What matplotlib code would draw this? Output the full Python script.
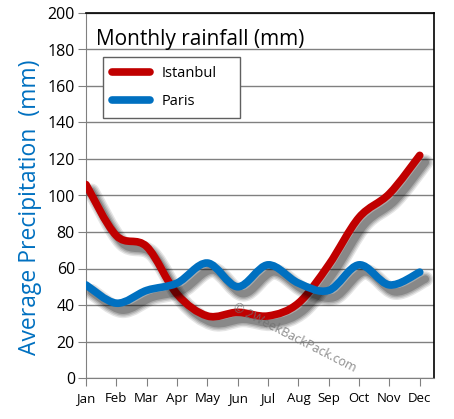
import matplotlib
matplotlib.use("Agg")
import matplotlib.pyplot as plt
import matplotlib.patheffects as pe
from matplotlib.path import Path
from matplotlib.patches import PathPatch
from matplotlib.lines import Line2D
import numpy as np

months = ['Jan', 'Feb', 'Mar', 'Apr', 'May', 'Jun',
          'Jul', 'Aug', 'Sep', 'Oct', 'Nov', 'Dec']
istanbul = [106, 78, 72, 46, 34, 36, 34, 41, 62, 88, 101, 122]
paris = [51, 41, 48, 52, 63, 50, 62, 52, 48, 62, 51, 58]

red = '#c00000'
blue = '#0070c0'

plt.rcParams['font.family'] = ['Open Sans', 'DejaVu Sans']


def smooth_path(values):
    # cubic bezier through the points (excel style smoothing)
    pts = np.column_stack([np.arange(len(values)), values]).astype(float)
    verts = [pts[0]]
    codes = [Path.MOVETO]
    n = len(pts)
    for i in range(n - 1):
        p0 = pts[max(i - 1, 0)]
        p1 = pts[i]
        p2 = pts[i + 1]
        p3 = pts[min(i + 2, n - 1)]
        c1 = p1 + (p2 - p0) / 6.0
        c2 = p2 - (p3 - p1) / 6.0
        verts += [c1, c2, p2]
        codes += [Path.CURVE4] * 3
    return Path(verts, codes)


def shadow_effects(lw):
    effs = []
    for extra, a in [(6, 0.10), (4, 0.12), (2, 0.15), (0, 0.2)]:
        effs.append(pe.Stroke(offset=(4, -5), linewidth=lw + extra,
                              foreground='black', alpha=a))
    effs.append(pe.Normal())
    return effs


fig = plt.figure(figsize=(4.54, 4.19), dpi=100)
ax = fig.add_axes([86 / 454, 41 / 419, 348 / 454, 365 / 419])

lw = 5.5
for vals, col in [(istanbul, red), (paris, blue)]:
    patch = PathPatch(smooth_path(vals), fill=False, edgecolor=col,
                      linewidth=lw, capstyle='round', joinstyle='round',
                      zorder=3)
    patch.set_path_effects(shadow_effects(lw))
    ax.add_patch(patch)

ax.set_xlim(0, 11.47)
ax.set_ylim(0, 200)
ax.set_xticks(range(12))
ax.set_xticklabels(months, fontsize=9.5)
ax.set_yticks(range(0, 201, 20))
ax.tick_params(axis='y', labelsize=11.5, length=6, color='#808080', pad=2)
ax.tick_params(axis='x', length=6, color='#808080', pad=4)
ax.grid(axis='y', color='#808080', linewidth=1)
ax.set_axisbelow(True)
for s in ['left', 'bottom']:
    ax.spines[s].set_color('#808080')
for s in ['top', 'right']:
    ax.spines[s].set_color('black')
    ax.spines[s].set_linewidth(1.2)

ax.set_ylabel('Average Precipitation  (mm)', color=blue, fontsize=16.5)
ax.yaxis.set_label_coords(-0.127, 0.467)
ax.text(0.03, 0.955, 'Monthly rainfall (mm)', transform=ax.transAxes,
        fontsize=15, ha='left', va='top')

handles = [Line2D([], [], color=red, linewidth=lw, solid_capstyle='round'),
           Line2D([], [], color=blue, linewidth=lw, solid_capstyle='round')]
leg = ax.legend(handles, ['Istanbul', 'Paris'], loc='upper left',
                bbox_to_anchor=(0.049, 0.723, 0.394, 0.156), mode='expand',
                fontsize=10.5, fancybox=False,
                edgecolor='#606060', framealpha=1, handlelength=2.6,
                labelspacing=0.9, borderpad=0.6, handletextpad=0.8,
                borderaxespad=0)
leg.get_frame().set_linewidth(1)
leg.set_zorder(5)

ax.text(0.60, 0.11, '\u00a9 2WeekBackPack.com', transform=ax.transAxes,
        fontsize=9, color='#707070', alpha=0.8, rotation=-27,
        ha='center', va='center', zorder=4)

fig.savefig('out.png', dpi=100)
